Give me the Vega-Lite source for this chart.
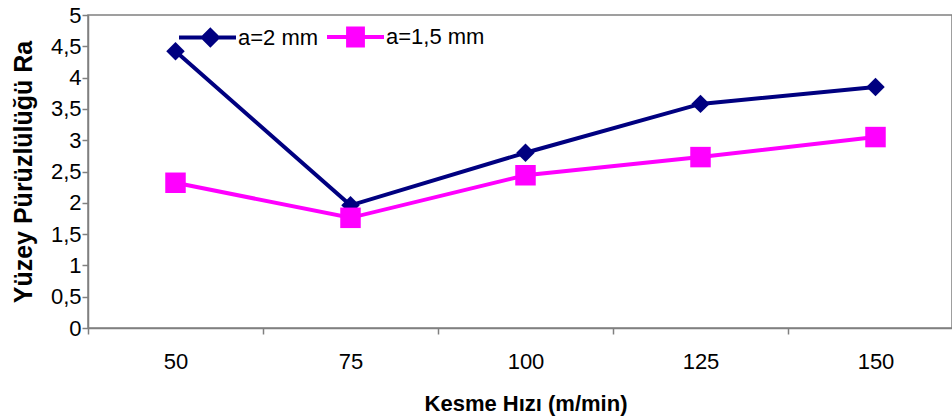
{
  "$schema": "https://vega.github.io/schema/vega-lite/v6.json",
  "width": 864,
  "height": 313,
  "autosize": {"type": "none"},
  "padding": {"left": 88, "top": 15, "right": 0, "bottom": 92},
  "background": "white",
  "config": {
    "font": "Liberation Sans",
    "view": {"stroke": "#808080", "strokeWidth": 1.5}
  },
  "data": {"values": [
    {"hiz": "50", "seri": "a=2 mm", "ra": 4.42},
    {"hiz": "75", "seri": "a=2 mm", "ra": 1.96},
    {"hiz": "100", "seri": "a=2 mm", "ra": 2.80},
    {"hiz": "125", "seri": "a=2 mm", "ra": 3.58},
    {"hiz": "150", "seri": "a=2 mm", "ra": 3.85},
    {"hiz": "50", "seri": "a=1,5 mm", "ra": 2.32},
    {"hiz": "75", "seri": "a=1,5 mm", "ra": 1.76},
    {"hiz": "100", "seri": "a=1,5 mm", "ra": 2.44},
    {"hiz": "125", "seri": "a=1,5 mm", "ra": 2.73},
    {"hiz": "150", "seri": "a=1,5 mm", "ra": 3.05}
  ]},
  "encoding": {
    "x": {"field": "hiz", "type": "ordinal", "sort": ["50", "75", "100", "125", "150"],
      "scale": {"type": "band", "paddingInner": 0, "paddingOuter": 0, "range": [0, 875]},
      "axis": {"title": "Kesme Hızı (m/min)", "labelAngle": 0, "tickBand": "extent", "tickSize": 6, "labelPadding": 17, "titlePadding": 21,
        "grid": false, "domainColor": "#808080", "domainWidth": 1.5, "tickColor": "#808080", "tickWidth": 1.5,
        "labelFont": "Liberation Sans", "labelColor": "#000000", "labelFontSize": 22,
        "titleFont": "Liberation Sans", "titleFontSize": 22, "titleFontWeight": "bold", "titleColor": "#000000"}},
    "y": {"field": "ra", "type": "quantitative",
      "scale": {"domain": [0, 5], "nice": false},
      "axis": {"title": "Yüzey Pürüzlülüğü Ra", "values": [0, 0.5, 1, 1.5, 2, 2.5, 3, 3.5, 4, 4.5, 5], "format": "~g", "labelExpr": "replace(datum.label, '.', ',')", "tickSize": 6, "labelPadding": 1, "titlePadding": 14,
        "grid": false, "domainColor": "#808080", "domainWidth": 1.5, "tickColor": "#808080", "tickWidth": 1.5,
        "labelFont": "Liberation Sans", "labelColor": "#000000", "labelFontSize": 22,
        "titleFont": "Liberation Sans", "titleFontSize": 25, "titleFontWeight": "bold", "titleColor": "#000000"}}
  },
  "layer": [
    {
      "mark": {"type": "line", "strokeWidth": 4},
      "encoding": {
        "color": {"field": "seri", "type": "nominal", "sort": ["a=2 mm", "a=1,5 mm"],
          "scale": {"domain": ["a=2 mm", "a=1,5 mm"], "range": ["#000080", "#ff00ff"]},
          "legend": {"title": null, "orient": "none", "legendX": 89, "legendY": -9, "direction": "horizontal", "padding": 0,
            "labelFontSize": 22, "labelColor": "#000000", "labelFont": "Liberation Sans", "labelOffset": 0, "columnPadding": 0,
            "symbolSize": 3249, "symbolStrokeWidth": 4,
            "encode": {"symbols": {"update": {
              "shape": {"signal": "datum.value === 'a=2 mm' ? 'M-1,0L1,0M0.1,-0.26L0.36,0L0.1,0.26L-0.16,0Z' : 'M-1,0L1,0M-0.26,-0.3L0.26,-0.3L0.26,0.3L-0.26,0.3Z'"},
              "fill": {"signal": "datum.value === 'a=2 mm' ? '#000080' : '#ff00ff'"},
              "stroke": {"signal": "datum.value === 'a=2 mm' ? '#000080' : '#ff00ff'"}
            }}}}
        }
      }
    },
    {
      "transform": [{"filter": "datum.seri === 'a=2 mm'"}],
      "mark": {"type": "point", "filled": true, "opacity": 1, "shape": "diamond", "size": 340, "color": "#000080"}
    },
    {
      "transform": [{"filter": "datum.seri === 'a=1,5 mm'"}],
      "mark": {"type": "point", "filled": true, "opacity": 1, "shape": "square", "size": 420, "color": "#ff00ff"}
    }
  ]
}
